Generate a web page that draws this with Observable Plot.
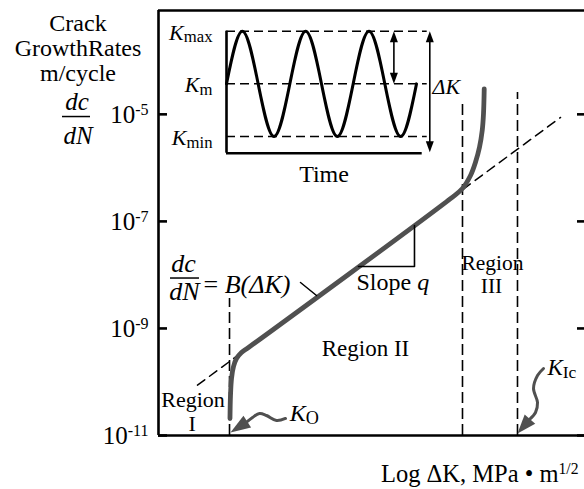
<!DOCTYPE html>
<html><head><meta charset="utf-8">
<script src="https://cdn.jsdelivr.net/npm/d3@7"></script>
<script src="https://cdn.jsdelivr.net/npm/@observablehq/plot@0.6"></script>
<style>
body{margin:0;background:#fff;}
#chart{position:relative;width:584px;height:489px;}
#chart svg{position:absolute;left:0;top:0;}
</style></head><body><div id="chart"></div>
<script>
// ---------- data (x: log ΔK, arbitrary units; y: log10 dc/dN) ----------
const yTickExp = [-11, -9, -7, -5];
const curveLogDK   = [1.678, 1.690, 1.714, 1.761, 1.831, 1.948, 2.113, 6.854, 7.129, 7.324, 7.441, 7.535, 7.599, 7.629, 7.646];
const curveLogRate = [-10.682, -10.253, -9.935, -9.711, -9.562, -9.449, -9.356, -6.574, -6.391, -6.143, -5.894, -5.614, -5.302, -4.990, -4.523];
const parisLogDK   = [0.915, 9.437];
const parisLogRate = [-10.059, -5.058];
const boundaryLogDK   = [1.667, 7.136, 8.427];
const boundaryTopRate = [-8.44, -4.76, -4.592];
const slopeLogDK   = [4.695, 6.009, 6.009];
const slopeLogRate = [-7.843, -7.843, -7.077];
const k0WaveDK   = [2.981, 2.770, 2.535, 2.371, 2.207, 2.089];
const k0WaveRate = [-10.682, -10.720, -10.626, -10.589, -10.664, -10.738];
const k0Tip = [1.690, -10.944];
const kIcWaveDK   = [9.038, 8.897, 8.803, 8.897, 8.850, 8.709];
const kIcWaveRate = [-9.748, -9.879, -10.122, -10.384, -10.570, -10.701];
const kIcTip = [8.427, -10.963];
// inset: load cycle (time in cycles, K normalised)
const waveTime = [0, 0.25, 0.5, 0.75, 1, 1.25, 1.5, 1.75, 2, 2.25, 2.5, 2.75, 3];
const waveK    = [0, 1, 0, -1, 0, 1, 0, -1, 0, 1, 0, -1, 0];
const kLevels = [1, 0, -1];
const kNames  = ["max", "m", "min"];
const insetBase = -1.317;

const FONT = '"Liberation Serif", "Times New Roman", serif';
const GREY = "#505050";

function arrowHead(L, W) {
  return {draw(ctx) { ctx.moveTo(0, 0); ctx.lineTo(-W / 2, L); ctx.lineTo(W / 2, L); ctx.closePath(); }};
}
const pts = (xs, ys) => xs.map((x, i) => ({x, y: ys[i]}));

// annotations of the main panel (positions in data units)
const annMiddle = [
  {t: "Crack", x: -1.89, y: -3.44, s: 24},
  {t: "GrowthRates", x: -1.89, y: -3.905, s: 24},
  {t: "m/cycle", x: -1.89, y: -4.37, s: 24},
  {t: "*dc*", x: -1.91, y: -4.92, s: 25},
  {t: "*dN*", x: -1.89, y: -5.55, s: 25},
  {t: "*dc*", x: 0.587, y: -7.95, s: 26},
  {t: "*dN*", x: 0.610, y: -8.47, s: 26},
  {t: "Region", x: 0.810, y: -10.471, s: 22},
  {t: "I", x: 0.791, y: -10.907, s: 22},
  {t: "Region II", x: 4.859, y: -9.506, s: 23},
  {t: "Region", x: 7.840, y: -7.91, s: 21.5},
  {t: "III", x: 7.817, y: -8.345, s: 21.5}
];
const annStart = [
  {t: "= *B(ΔK)*", x: 1.056, y: -8.329, s: 26},
  {t: "Slope *q*", x: 4.648, y: -8.291, s: 24},
  {t: "*K*_{O}", x: 3.08, y: -10.738, s: 24},
  {t: "*K*_{Ic}", x: 9.13, y: -9.879, s: 23}
];
const annEnd = [
  {t: "Log ΔK, MPa • m^{1/2}", x: 9.86, y: -11.872, s: 24.5}
];
const fracBars = [
  {y: -5.041, x1: -2.254, x2: -1.596},
  {y: -8.058, x1: 0.282, x2: 0.962}
];

const txt = (data, anchor) => Plot.text(data, {x: "x", y: "y", text: "t", fontSize: "s", textAnchor: anchor, lineAnchor: "bottom", fill: "black"});

const main = Plot.plot({
  width: 584, height: 489,
  marginLeft: 158, marginRight: 0, marginTop: 10, marginBottom: 54,
  x: {domain: [0, 10], axis: null},
  y: {domain: [-11, -3.06], axis: null},
  style: {fontFamily: FONT, background: "white", color: "black", overflow: "visible"},
  marks: [
    Plot.ruleX(boundaryLogDK.map((x, i) => ({x, y2: boundaryTopRate[i]})), {x: "x", y1: -11, y2: "y2", stroke: "black", strokeWidth: 1.6, strokeDasharray: "11,5"}),
    Plot.line(pts(parisLogDK, parisLogRate), {x: "x", y: "y", stroke: "black", strokeWidth: 1.5, strokeDasharray: "9,6"}),
    Plot.line(pts(curveLogDK, curveLogRate), {x: "x", y: "y", stroke: GREY, strokeWidth: 4.8, curve: "catmull-rom"}),
    Plot.line(pts(slopeLogDK, slopeLogRate), {x: "x", y: "y", stroke: "black", strokeWidth: 1.6}),
    Plot.line(pts([3.333, 3.709], [-8.142, -8.385]), {x: "x", y: "y", stroke: "black", strokeWidth: 1.5}),
    Plot.line(pts(k0WaveDK, k0WaveRate), {x: "x", y: "y", stroke: GREY, strokeWidth: 3, curve: "catmull-rom"}),
    Plot.dot([k0Tip], {x: d => d[0], y: d => d[1], symbol: arrowHead(20, 14), rotate: -123, fill: GREY, stroke: "none"}),
    Plot.line(pts(kIcWaveDK, kIcWaveRate), {x: "x", y: "y", stroke: GREY, strokeWidth: 3, curve: "catmull-rom"}),
    Plot.dot([kIcTip], {x: d => d[0], y: d => d[1], symbol: arrowHead(19, 14), rotate: -139, fill: GREY, stroke: "none"}),
    Plot.ruleX([0], {stroke: "black", strokeWidth: 2.6}),
    Plot.ruleY([-11, -3.06], {stroke: "black", strokeWidth: 2.6}),
    Plot.tickY(yTickExp, {y: d => d, insetRight: 417, stroke: "black", strokeWidth: 2.6}),
    Plot.tickY(yTickExp, {y: d => d, insetLeft: 419, stroke: "black", strokeWidth: 2.6}),
    Plot.text(yTickExp, {x: -0.235, y: d => d, text: d => `10^{${d}}`, textAnchor: "end", lineAnchor: "bottom", dy: 8.5, fontSize: 25, fill: "black"}),
    Plot.ruleY(fracBars, {y: "y", x1: "x1", x2: "x2", stroke: "black", strokeWidth: 1.5}),
    txt(annMiddle, "middle"),
    txt(annStart, "start"),
    txt(annEnd, "end")
  ]
});

const inset = Plot.plot({
  width: 584, height: 200,
  marginLeft: 226, marginRight: 168, marginTop: 30.7, marginBottom: 64,
  x: {domain: [0, 3], axis: null},
  y: {domain: [-1, 1], axis: null},
  style: {fontFamily: FONT, background: "transparent", color: "black", overflow: "visible"},
  marks: [
    Plot.ruleY(kLevels, {y: d => d, x1: 0, x2: 3.169, stroke: "black", strokeWidth: 1.5, strokeDasharray: "9,5"}),
    Plot.ruleX([0], {x: d => d, y1: insetBase, y2: 1, stroke: "black", strokeWidth: 2.6}),
    Plot.ruleY([insetBase], {y: d => d, x1: 0, x2: 3.09, stroke: "black", strokeWidth: 2.6}),
    Plot.line(pts(waveTime, waveK), {x: "x", y: "y", stroke: "black", strokeWidth: 3, curve: "natural"}),
    Plot.ruleX([2.643], {x: d => d, y1: 0.1, y2: 0.9, stroke: "black", strokeWidth: 1.6}),
    Plot.ruleX([3.21], {x: d => d, y1: -1.2, y2: 0.9, stroke: "black", strokeWidth: 1.6}),
    Plot.dot([{x: 2.643, y: 1}, {x: 3.21, y: 1}], {x: "x", y: "y", symbol: arrowHead(11, 8), rotate: 0, fill: "black", stroke: "none"}),
    Plot.dot([{x: 2.643, y: 0}, {x: 3.21, y: -1.30}], {x: "x", y: "y", symbol: arrowHead(11, 8), rotate: 180, fill: "black", stroke: "none"}),
    Plot.text(kLevels, {x: -0.221, y: d => d, text: (d, i) => `*K*_{${kNames[i]}}`, textAnchor: "end", lineAnchor: "bottom", dy: 8.5, fontSize: 22, fill: "black"}),
    Plot.text(["*ΔK*"], {x: 3.253, y: -0.202, text: d => d, textAnchor: "start", lineAnchor: "bottom", fontSize: 22, fill: "black"}),
    Plot.text(["Time"], {x: 1.540, y: -1.868, text: d => d, textAnchor: "middle", lineAnchor: "bottom", fontSize: 24, fill: "black"})
  ]
});

const host = document.getElementById("chart");
host.appendChild(main);
host.appendChild(inset);

function richText(root) {
  const NS = "http://www.w3.org/2000/svg";
  root.querySelectorAll("text").forEach(t => {
    const s = t.textContent;
    if (!/[*_^]/.test(s) || t.querySelector("tspan")) return;
    const fs = parseFloat(getComputedStyle(t).fontSize) || 20;
    const parts = s.split(/(\*[^*]+\*|_\{[^}]*\}|\^\{[^}]*\})/).filter(p => p);
    t.textContent = "";
    let shift = 0;
    for (const p of parts) {
      const ts = document.createElementNS(NS, "tspan");
      let dy = 0;
      if (p.startsWith("*")) { ts.textContent = p.slice(1, -1); ts.setAttribute("font-style", "italic"); }
      else if (p.startsWith("_{")) { ts.textContent = p.slice(2, -1); ts.setAttribute("font-size", (fs * 0.76).toFixed(1)); dy = fs * 0.12; }
      else if (p.startsWith("^{")) { ts.textContent = p.slice(2, -1); ts.setAttribute("font-size", (fs * 0.64).toFixed(1)); dy = -fs * 0.33; }
      else ts.textContent = p;
      const d = dy - shift;
      if (d) ts.setAttribute("dy", d.toFixed(2));
      shift = dy;
      t.appendChild(ts);
    }
  });
}
richText(main);
richText(inset);
</script></body></html>
